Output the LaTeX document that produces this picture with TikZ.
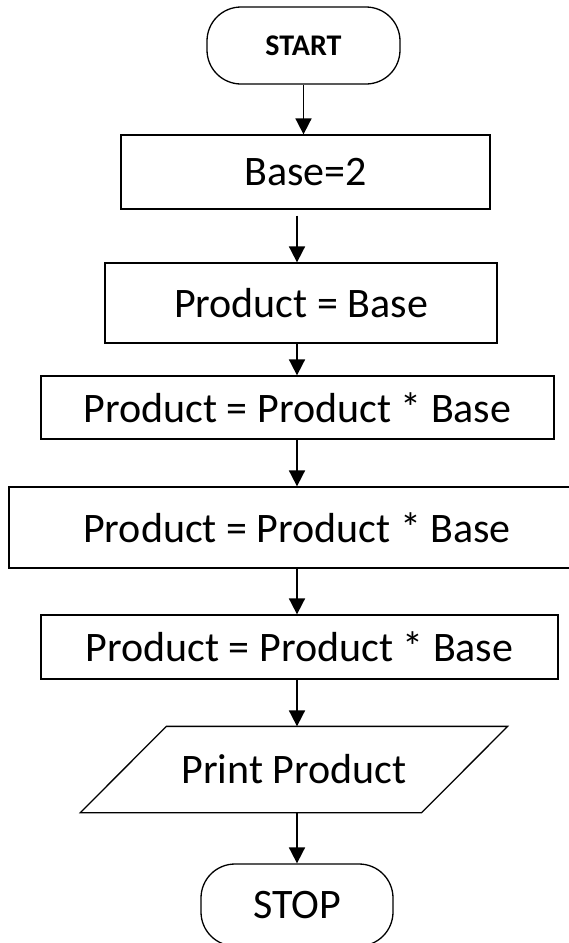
\documentclass[tikz,border=0pt]{standalone}
\usepackage{fontspec}
\setmainfont{Carlito}
\usetikzlibrary{arrows.meta}
\tikzset{
    box/.style={draw,line width=1.3pt,inner sep=0pt,font=\fontsize{42}{50}\selectfont},
    term/.style={box,rounded corners=34pt},
    flow/.style={-{Triangle[length=16pt,width=16pt]},line width=1.8pt}
}
\begin{document}
\begin{tikzpicture}[x=1pt,y=-1pt]
        \useasboundingbox (0,0) rectangle (568,943);
        \node[term,minimum width=193pt,minimum height=77pt,font=\fontsize{30}{36}\selectfont\bfseries] (start) at (303.5,45.5) {START};
        \node[box,minimum width=369pt,minimum height=74pt] (base) at (305.5,172) {Base=2};
        \node[box,minimum width=392pt,minimum height=80pt] (prod) at (301,303) {Product = Base};
        \node[box,minimum width=513pt,minimum height=63pt] (mult1) at (297.5,407.5) {Product = Product * Base};
        \node[box,minimum width=576pt,minimum height=81pt] (mult2) at (297,527.5) {Product = Product * Base};
        \node[box,minimum width=517pt,minimum height=64pt] (mult3) at (299.5,647) {Product = Product * Base};
        \node[box,draw=none,minimum width=340pt,minimum height=85pt] (print) at (294,769.5) {Print Product};
        \draw[line width=1.3pt] ([xshift=-43pt]print.south west) -- ([xshift=43pt]print.north west) -- ([xshift=43pt]print.north east) -- ([xshift=-43pt]print.south east) -- cycle;
        \node[term,minimum width=192pt,minimum height=82pt] (stop) at (297,905) {STOP};
        \coordinate (spine) at (297,0);
        \draw[flow] (start.south) -- (start.south |- base.north);
        \draw[flow,shorten <=6pt] (base.south -| spine) -- (prod.north -| spine);
        \draw[flow] (prod.south -| spine) -- (mult1.north -| spine);
        \draw[flow] (mult1.south -| spine) -- (mult2.north -| spine);
        \draw[flow] (mult2.south -| spine) -- (mult3.north -| spine);
        \draw[flow] (mult3.south -| spine) -- (print.north -| spine);
        \draw[flow] (print.south -| spine) -- (stop.north -| spine);
    \end{tikzpicture}
\end{document}
